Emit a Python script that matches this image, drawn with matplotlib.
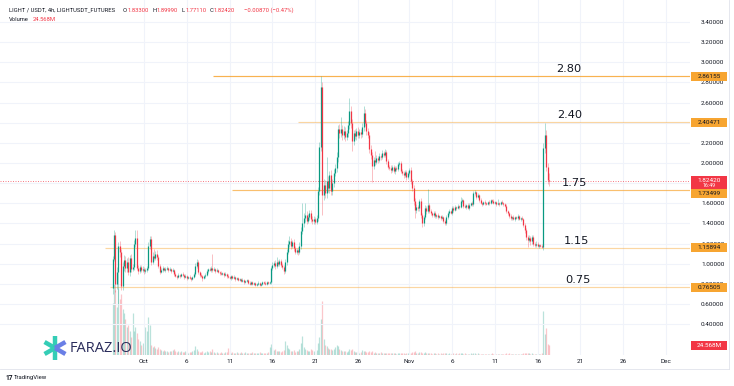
import numpy as np
import matplotlib
matplotlib.use("Agg")
import matplotlib.pyplot as plt
import matplotlib.dates as mdates
from matplotlib.patches import Rectangle
from matplotlib.lines import Line2D
from datetime import datetime, timedelta

# ---------------- data (LIGHT/USDT 4h candles) ----------------
first_open = 0.76
closes = [
    1.05, 1.28, 0.80, 0.92, 1.18, 1.12, 0.78, 0.98, 1.04, 0.96,
    1.02, 0.92, 1.06, 0.95, 0.97, 1.20, 1.25, 0.96, 0.93, 0.97,
    0.94, 0.95, 0.93, 0.94, 0.96, 1.18, 1.24, 1.02, 1.08, 1.06,
    1.10, 1.07, 0.98, 0.92, 0.94, 0.96, 0.94, 0.95, 0.96, 0.94,
    0.95, 0.93, 0.94, 0.90, 0.88, 0.87, 0.89, 0.88, 0.90, 0.89,
    0.87, 0.88, 0.86, 0.87, 0.86, 0.85, 0.87, 0.90, 0.98, 1.02,
    0.92, 0.89, 0.88, 0.86, 0.88, 0.89, 0.93, 0.95, 0.94, 0.96,
    0.94, 0.95, 0.93, 0.94, 0.92, 0.91, 0.90, 0.91, 0.89, 0.90,
    0.88, 0.87, 0.86, 0.88, 0.86, 0.87, 0.85, 0.86, 0.84, 0.85,
    0.83, 0.84, 0.82, 0.83, 0.84, 0.81, 0.80, 0.82, 0.80, 0.81,
    0.79, 0.80, 0.81, 0.79, 0.80, 0.82, 0.81, 0.80, 0.82, 0.81,
    0.82, 0.96, 0.99, 1.01, 0.98, 1.02, 1.00, 1.03, 0.99, 0.97,
    0.93, 1.02, 1.12, 1.20, 1.22, 1.18, 1.21, 1.16, 1.12, 1.14,
    1.12, 1.18, 1.32, 1.40, 1.45, 1.48, 1.42, 1.46, 1.50, 1.44,
    1.42, 1.44, 1.41, 1.45, 1.72, 2.16, 2.75, 1.68, 1.78, 1.70,
    1.82, 1.75, 1.88, 1.72, 1.80, 1.90, 1.95, 2.06, 2.34, 2.30,
    2.34, 2.28, 2.32, 2.26, 2.30, 2.38, 2.52, 2.40, 2.22, 2.30,
    2.27, 2.32, 2.28, 2.31, 2.29, 2.36, 2.50, 2.40, 2.32, 2.28,
    2.14, 2.08, 1.97, 2.03, 2.01, 2.05, 2.03, 2.07, 2.06, 2.10,
    2.08, 2.11, 2.02, 1.96, 1.95, 1.93, 1.96, 1.92, 1.95, 1.94,
    1.99, 2.00, 1.92, 1.90, 1.88, 1.91, 1.86, 1.90, 1.93, 1.82,
    1.75, 1.62, 1.53, 1.56, 1.55, 1.62, 1.48, 1.40, 1.46, 1.55,
    1.52, 1.58, 1.52, 1.50, 1.48, 1.50, 1.47, 1.48, 1.46, 1.47,
    1.45, 1.46, 1.42, 1.40, 1.46, 1.50, 1.52, 1.50, 1.55, 1.53,
    1.56, 1.55, 1.57, 1.56, 1.62, 1.63, 1.57, 1.56, 1.58, 1.55,
    1.58, 1.60, 1.59, 1.70, 1.71, 1.66, 1.68, 1.63, 1.60, 1.59,
    1.61, 1.60, 1.59, 1.61, 1.60, 1.63, 1.62, 1.60, 1.61, 1.59,
    1.60, 1.59, 1.61, 1.60, 1.59, 1.57, 1.52, 1.50, 1.47, 1.45,
    1.46, 1.44, 1.46, 1.45, 1.47, 1.44, 1.45, 1.44, 1.38, 1.33,
    1.26, 1.23, 1.25, 1.22, 1.26, 1.20, 1.19, 1.20, 1.18, 1.19,
    1.18, 1.17, 2.15, 2.28, 1.96, 1.833, 1.8242,
]
up_wick = [
    0.03, 0.05, 0.03, 0.05, 0.03, 0.04, 0.03, 0.04, 0.05, 0.04,
    0.04, 0.05, 0.03, 0.04, 0.03, 0.03, 0.08, 0.08, 0.03, 0.02,
    0.02, 0.03, 0.02, 0.02, 0.02, 0.03, 0.03, 0.03, 0.04, 0.07,
    0.03, 0.04, 0.02, 0.02, 0.02, 0.02, 0.01, 0.02, 0.02, 0.01,
    0.02, 0.01, 0.02, 0.01, 0.02, 0.01, 0.02, 0.01, 0.01, 0.02,
    0.01, 0.02, 0.01, 0.01, 0.02, 0.01, 0.01, 0.02, 0.03, 0.03,
    0.02, 0.01, 0.02, 0.01, 0.01, 0.02, 0.02, 0.01, 0.02, 0.02,
    0.14, 0.02, 0.01, 0.02, 0.01, 0.01, 0.02, 0.01, 0.01, 0.02,
    0.01, 0.02, 0.01, 0.01, 0.01, 0.02, 0.01, 0.01, 0.01, 0.01,
    0.01, 0.02, 0.01, 0.01, 0.01, 0.01, 0.02, 0.01, 0.01, 0.01,
    0.01, 0.01, 0.02, 0.01, 0.01, 0.01, 0.01, 0.02, 0.01, 0.01,
    0.01, 0.02, 0.03, 0.02, 0.03, 0.05, 0.02, 0.02, 0.02, 0.02,
    0.02, 0.03, 0.03, 0.03, 0.05, 0.03, 0.02, 0.03, 0.02, 0.02,
    0.03, 0.03, 0.04, 0.20, 0.05, 0.12, 0.04, 0.03, 0.03, 0.03,
    0.03, 0.03, 0.02, 0.03, 0.04, 0.05, 0.11, 0.05, 0.06, 0.05,
    0.24, 0.05, 0.04, 0.05, 0.04, 0.04, 0.04, 0.05, 0.04, 0.05,
    0.12, 0.04, 0.05, 0.04, 0.03, 0.04, 0.13, 0.05, 0.04, 0.03,
    0.04, 0.03, 0.04, 0.03, 0.03, 0.04, 0.07, 0.04, 0.03, 0.03,
    0.03, 0.04, 0.03, 0.03, 0.09, 0.03, 0.02, 0.03, 0.02, 0.03,
    0.02, 0.03, 0.02, 0.02, 0.02, 0.03, 0.02, 0.02, 0.02, 0.02,
    0.02, 0.02, 0.02, 0.02, 0.02, 0.02, 0.02, 0.02, 0.02, 0.03,
    0.02, 0.03, 0.03, 0.03, 0.02, 0.02, 0.03, 0.02, 0.02, 0.03,
    0.02, 0.16, 0.02, 0.02, 0.01, 0.02, 0.02, 0.01, 0.02, 0.01,
    0.01, 0.02, 0.01, 0.02, 0.02, 0.02, 0.02, 0.01, 0.02, 0.02,
    0.02, 0.01, 0.02, 0.01, 0.04, 0.02, 0.01, 0.02, 0.01, 0.02,
    0.02, 0.01, 0.02, 0.02, 0.02, 0.01, 0.02, 0.01, 0.02, 0.01,
    0.01, 0.02, 0.01, 0.01, 0.02, 0.01, 0.01, 0.02, 0.01, 0.01,
    0.04, 0.01, 0.01, 0.02, 0.01, 0.01, 0.02, 0.01, 0.01, 0.02,
    0.01, 0.02, 0.01, 0.01, 0.02, 0.01, 0.01, 0.02, 0.01, 0.02,
    0.02, 0.02, 0.03, 0.02, 0.02, 0.02, 0.01, 0.02, 0.01, 0.01,
    0.01, 0.02, 0.05, 0.12, 0.05, 0.04, 0.067,
]
down_wick = [
    0.06, 0.02, 0.08, 0.05, 0.32, 0.05, 0.04, 0.04, 0.05, 0.04,
    0.04, 0.03, 0.04, 0.03, 0.02, 0.03, 0.03, 0.02, 0.03, 0.02,
    0.02, 0.02, 0.03, 0.02, 0.02, 0.02, 0.03, 0.03, 0.02, 0.02,
    0.02, 0.03, 0.02, 0.02, 0.01, 0.02, 0.01, 0.02, 0.01, 0.02,
    0.01, 0.02, 0.01, 0.02, 0.01, 0.02, 0.01, 0.02, 0.01, 0.01,
    0.02, 0.01, 0.02, 0.01, 0.01, 0.02, 0.01, 0.01, 0.02, 0.02,
    0.02, 0.02, 0.01, 0.03, 0.01, 0.02, 0.01, 0.02, 0.01, 0.02,
    0.02, 0.01, 0.02, 0.01, 0.01, 0.02, 0.01, 0.01, 0.02, 0.01,
    0.02, 0.01, 0.01, 0.02, 0.01, 0.01, 0.02, 0.01, 0.01, 0.01,
    0.01, 0.01, 0.02, 0.01, 0.01, 0.01, 0.01, 0.01, 0.01, 0.01,
    0.01, 0.01, 0.01, 0.014, 0.01, 0.01, 0.01, 0.01, 0.01, 0.01,
    0.01, 0.02, 0.02, 0.02, 0.03, 0.02, 0.02, 0.02, 0.02, 0.02,
    0.03, 0.02, 0.03, 0.02, 0.03, 0.03, 0.02, 0.03, 0.02, 0.02,
    0.03, 0.02, 0.03, 0.03, 0.04, 0.04, 0.03, 0.02, 0.03, 0.03,
    0.03, 0.03, 0.02, 0.02, 0.03, 0.04, 0.04, 0.20, 0.05, 0.05,
    0.05, 0.04, 0.05, 0.04, 0.04, 0.04, 0.03, 0.04, 0.05, 0.05,
    0.04, 0.05, 0.04, 0.04, 0.03, 0.04, 0.04, 0.05, 0.10, 0.04,
    0.03, 0.04, 0.03, 0.03, 0.04, 0.03, 0.04, 0.03, 0.04, 0.03,
    0.04, 0.04, 0.16, 0.03, 0.03, 0.02, 0.03, 0.02, 0.03, 0.02,
    0.02, 0.02, 0.03, 0.02, 0.02, 0.03, 0.02, 0.02, 0.03, 0.02,
    0.02, 0.02, 0.02, 0.02, 0.03, 0.02, 0.03, 0.02, 0.02, 0.03,
    0.03, 0.04, 0.08, 0.03, 0.03, 0.03, 0.03, 0.04, 0.03, 0.02,
    0.03, 0.02, 0.02, 0.02, 0.02, 0.02, 0.02, 0.02, 0.02, 0.01,
    0.02, 0.01, 0.02, 0.02, 0.02, 0.02, 0.02, 0.01, 0.02, 0.02,
    0.01, 0.02, 0.01, 0.02, 0.01, 0.02, 0.02, 0.01, 0.02, 0.01,
    0.02, 0.01, 0.02, 0.02, 0.02, 0.02, 0.01, 0.02, 0.01, 0.02,
    0.01, 0.02, 0.01, 0.01, 0.02, 0.01, 0.02, 0.01, 0.01, 0.02,
    0.01, 0.02, 0.01, 0.01, 0.02, 0.01, 0.02, 0.02, 0.02, 0.02,
    0.02, 0.01, 0.02, 0.01, 0.02, 0.01, 0.02, 0.01, 0.02, 0.03,
    0.03, 0.06, 0.02, 0.03, 0.02, 0.02, 0.02, 0.02, 0.01, 0.02,
    0.01, 0.01, 0.03, 0.05, 0.04, 0.04, 0.053,
]
volume_m = [
    130, 175, 160, 120, 165, 140, 150, 115, 105, 90,
    70, 75, 60, 45, 105, 60, 70, 55, 40, 35,
    25, 30, 20, 70, 60, 95, 75, 25, 20, 22,
    18, 15, 20, 14, 12, 10, 13, 9, 11, 8,
    10, 9, 12, 14, 10, 8, 9, 7, 10, 8,
    7, 9, 8, 6, 8, 7, 9, 12, 22, 15,
    10, 8, 7, 9, 6, 8, 10, 7, 9, 8,
    14, 8, 6, 7, 5, 6, 7, 5, 6, 8,
    7, 18, 9, 6, 7, 5, 6, 8, 5, 6,
    7, 5, 6, 8, 5, 4, 6, 5, 7, 5,
    6, 4, 5, 7, 5, 6, 4, 5, 6, 8,
    20, 28, 18, 12, 15, 10, 9, 11, 8, 10,
    12, 35, 25, 18, 14, 10, 9, 12, 8, 9,
    10, 14, 30, 48, 20, 15, 12, 10, 9, 14,
    12, 10, 8, 12, 30, 45, 90, 135, 40, 26,
    22, 18, 15, 14, 12, 16, 20, 26, 22, 15,
    12, 10, 9, 11, 8, 10, 16, 12, 14, 9,
    8, 7, 9, 6, 8, 12, 10, 9, 7, 8,
    9, 8, 10, 6, 7, 5, 6, 5, 7, 6,
    5, 4, 6, 5, 4, 5, 6, 4, 5, 3,
    4, 5, 6, 4, 5, 3, 4, 5, 4, 6,
    8, 7, 9, 6, 5, 7, 8, 6, 5, 7,
    5, 6, 4, 5, 3, 4, 5, 3, 4, 3,
    4, 3, 5, 4, 5, 3, 4, 3, 4, 5,
    3, 4, 3, 4, 5, 4, 3, 4, 3, 2,
    3, 4, 3, 5, 4, 3, 4, 3, 2, 3,
    2, 3, 2, 3, 2, 3, 4, 2, 3, 2,
    3, 2, 3, 2, 3, 2, 4, 3, 4, 3,
    2, 3, 2, 3, 2, 3, 2, 3, 5, 4,
    6, 5, 4, 3, 4, 3, 3, 2, 3, 2,
    3, 4, 109, 52, 67, 28, 24.568,
]
first_candle = "2025-09-27 08:00"

level_prices = [2.86155, 2.40471, 1.73499, 1.15894, 0.76505]
level_names = ["2.80", "2.40", "1.75", "1.15", "0.75"]
level_start = ["2025-10-09 02:00", "2025-10-19 00:00", "2025-10-11 07:00",
               "2025-09-26 10:00", "2025-09-27 00:00"]
level_label_at = ["2025-11-19 16:00", "2025-11-19 19:00", "2025-11-20 06:00",
                  "2025-11-20 14:00", "2025-11-20 17:00"]
last_price = 1.82420
last_volume_label = "24.568M"
countdown = "16:49"
price_ticks = [0.4, 0.6, 0.8, 1.0, 1.2, 1.4, 1.6, 1.8, 2.0, 2.2, 2.4, 2.6, 2.8, 3.0, 3.2, 3.4]
hidden_ticks = [1.8, 2.4]   # covered by price tags in the reference
date_ticks = ["2025-10-01", "2025-10-06", "2025-10-11", "2025-10-16", "2025-10-21",
              "2025-10-26", "2025-11-01", "2025-11-06", "2025-11-11", "2025-11-16",
              "2025-11-21", "2025-11-26", "2025-12-01"]
date_labels = ["Oct", "6", "11", "16", "21", "26", "Nov", "6", "11", "16", "21", "26", "Dec"]
header_parts = [("LIGHT / USDT, 4h, LIGHTUSDT_FUTURES", 0), ("O", 0), ("1.83300", 1),
                ("H", 0), ("1.89990", 1), ("L", 0), ("1.77110", 1), ("C", 0),
                ("1.82420", 1), ("\u22120.00870 (\u22120.47%)", 1)]

# ---------------- styling ----------------
UP = "#089981"
DOWN = "#f23645"
TXT = "#131722"
ORANGE = "#f7a531"
GRID = "#f0f3fa"
SMALL = "Roboto"

W, H = 734, 386
fig = plt.figure(figsize=(W / 100, H / 100), dpi=100)
fig.patch.set_facecolor("white")

ax = fig.add_axes([0.0, (H - 355) / H, 690 / W, 355 / H])
ax2 = ax.twinx()
ax.set_zorder(2)
ax.patch.set_visible(False)
ax2.set_zorder(1)

n = len(closes)
t0 = datetime.strptime(first_candle, "%Y-%m-%d %H:%M")
times = [t0 + timedelta(hours=4 * i) for i in range(n)]
x = mdates.date2num(times)
c = np.array(closes)
o = np.array([first_open] + closes[:-1])
hi = np.maximum(o, c) + np.array(up_wick)
lo = np.minimum(o, c) - np.array(down_wick)
up = c >= o
cols = np.where(up, UP, DOWN)

oct1 = mdates.date2num(datetime(2025, 10, 1))
px_per_day = 8.557
ax.set_xlim(oct1 - 144 / px_per_day, oct1 + (690 - 144) / px_per_day)
ax.set_ylim(0.0924, 3.619)
ax2.set_ylim(0, 880)

# grid
for p in price_ticks:
    ax.axhline(p, color=GRID, lw=0.8, zorder=0)
for d in date_ticks:
    ax.axvline(mdates.date2num(datetime.strptime(d, "%Y-%m-%d")), color=GRID, lw=0.8, zorder=0)

# volume
vcols = np.where(up, UP, DOWN)
ax2.vlines(x, 0, volume_m, colors=vcols, lw=0.9, alpha=0.28)
ax2.axis("off")

# candles
ax.vlines(x, lo, hi, colors=cols, lw=0.5, alpha=0.45, zorder=3)
ax.vlines(x, np.minimum(o, c), np.maximum(o, c), colors=cols, lw=0.9, zorder=4)

# level lines
alphas = [0.85, 0.45, 0.7, 0.45, 0.45]
xr = ax.get_xlim()[1]
for p, s, a in zip(level_prices, level_start, alphas):
    xs = mdates.date2num(datetime.strptime(s, "%Y-%m-%d %H:%M"))
    ax.plot([xs, xr], [p, p], color=ORANGE, lw=0.85, alpha=a, zorder=2, solid_capstyle="butt")
for p, name, at in zip(level_prices, level_names, level_label_at):
    xa = mdates.date2num(datetime.strptime(at, "%Y-%m-%d %H:%M"))
    ax.annotate(name, (xa, p), xytext=(0, 5.0), textcoords="offset points",
                ha="center", va="center", fontsize=8.2, color=TXT, family="DejaVu Sans", zorder=6)

# current price dotted line
ax.axhline(last_price, color=DOWN, lw=0.6, ls=(0, (1.2, 1.8)), alpha=0.75, zorder=2)

# axes styling
for sp in ax.spines.values():
    sp.set_visible(False)
for sp in ax2.spines.values():
    sp.set_visible(False)
ax.yaxis.tick_right()
ax.set_yticks(price_ticks)
ax.set_yticklabels(["" if any(abs(p - h) < 1e-9 for h in hidden_ticks) else f"{p:.5f}"
                    for p in price_ticks])
ax.tick_params(axis="y", length=0, pad=8, labelsize=4.6, labelcolor=TXT)
ax.set_xticks([mdates.date2num(datetime.strptime(d, "%Y-%m-%d")) for d in date_ticks])
ax.set_xticklabels(date_labels)
ax.tick_params(axis="x", length=0, pad=2.6, labelsize=4.6, labelcolor=TXT)
for lab in ax.get_xticklabels() + ax.get_yticklabels():
    lab.set_family(SMALL)

# ---------------- overlay in pixel coordinates ----------------
ov = fig.add_axes([0, 0, 1, 1])
ov.set_xlim(0, W)
ov.set_ylim(H, 0)
ov.axis("off")
ov.patch.set_visible(False)
ov.set_zorder(5)


def ypx(p):
    return H - ax.transData.transform((ax.get_xlim()[0], p))[1]


def tag(yc, label, fc, tc, h=9.0):
    ov.add_patch(Rectangle((691, yc - h / 2), 36, h, fc=fc, ec="none"))
    ov.text(709, yc, label, ha="center", va="center", fontsize=4.6, color=tc, family=SMALL)


# orange level tags
for p in level_prices:
    yc = ypx(p)
    if abs(p - 1.73499) < 1e-6:
        yc += 3.6
    tag(yc, f"{p:.5f}", ORANGE, TXT)
# last price tag (two lines)
yl = ypx(last_price)
ov.add_patch(Rectangle((691, yl - 5), 36, 13.3, fc=DOWN, ec="none"))
ov.text(709, yl - 0.5, f"{last_price:.5f}", ha="center", va="center", fontsize=4.6, color="white", family=SMALL)
ov.text(709, yl + 5.0, countdown, ha="center", va="center", fontsize=3.8, color="white", family=SMALL)
# volume tag
yv = H - ax2.transData.transform((0, volume_m[-1]))[1]
ov.add_patch(Rectangle((691, yv - 4.5), 36, 9, fc=DOWN, ec="none"))
ov.text(709, yv, last_volume_label, ha="center", va="center", fontsize=4.6, color="white", family=SMALL)

# header
hx = [9, 123, 127.5, 152.5, 157, 182, 186, 210, 214, 244]
for (s, red), xx in zip(header_parts, hx):
    ov.text(xx, 10, s, ha="left", va="center", fontsize=4.2, color=DOWN if red else TXT, family=SMALL)
ov.text(9, 19.5, "Volume", ha="left", va="center", fontsize=4.2, color=TXT, family=SMALL)
ov.text(33, 19.5, last_volume_label, ha="left", va="center", fontsize=4.2, color=DOWN, family=SMALL)

# FARAZ.IO logo
cx, cy, L = 55, 348, 12
teal, blue = "#34cdb6", "#6a7fe6"
arms = [((0, -L), teal), ((0, L), teal), ((-L * 0.87, -L * 0.5), teal), ((-L * 0.87, L * 0.5), teal),
        ((L * 0.87, -L * 0.5), blue), ((L * 0.87, L * 0.5), blue)]
for (dx, dy), colr in arms:
    ov.add_line(Line2D([cx, cx + dx], [cy, cy + dy], color=colr, lw=3.2, solid_capstyle="butt"))
ov.text(70, 348, "FARAZ.IO", ha="left", va="center", fontsize=10.5, color="#2b2d5c", family="Open Sans")

# TradingView mark
ov.text(5, 378, "17", ha="left", va="center", fontsize=4.8, color=TXT, weight="bold", family=SMALL)
ov.text(14, 378, "TradingView", ha="left", va="center", fontsize=4.3, color=TXT, family=SMALL)

# frame
ov.add_line(Line2D([0, 729], [368.5, 368.5], color="#e0e3eb", lw=0.6))
ov.add_line(Line2D([729, 729], [0, 368.5], color="#e0e3eb", lw=0.6))

fig.savefig("out.png", dpi=100)
